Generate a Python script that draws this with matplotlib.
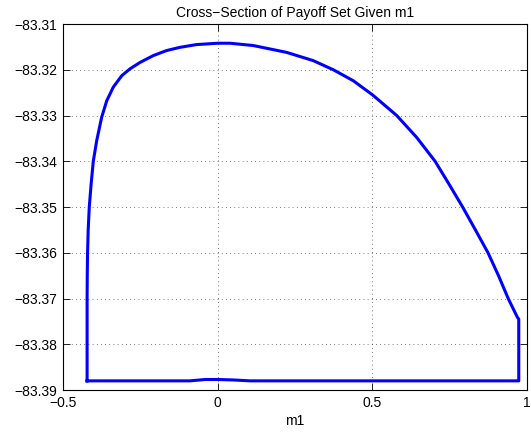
import matplotlib
matplotlib.use("Agg")
import matplotlib.pyplot as plt

plt.rcParams['font.family'] = ['Liberation Sans', 'DejaVu Sans']

# boundary of the payoff set cross-section, traced around the contour
m1 = [-0.4220, -0.4220, -0.4215, -0.4205, -0.4185, -0.415, -0.409, -0.402,
      -0.391, -0.375, -0.3587, -0.3374, -0.310, -0.2834, -0.251, -0.208,
      -0.165, -0.122, -0.069, 0.0, 0.040, 0.115, 0.223, 0.309, 0.374,
      0.4386, 0.501, 0.579, 0.6436, 0.703, 0.748, 0.792, 0.835, 0.874,
      0.908, 0.940, 0.9690, 0.9735, 0.9735,
      0.105, 0.05, 0.0, -0.04, -0.09, -0.4220]
payoff = [-83.3880, -83.3700, -83.3650, -83.3600, -83.3550, -83.3500,
          -83.3450, -83.3400, -83.3355, -83.3304, -83.3268, -83.3238,
          -83.3213, -83.3198, -83.3184, -83.3169, -83.3158, -83.3151,
          -83.3145, -83.3142, -83.3142, -83.3147, -83.3162, -83.3180,
          -83.3200, -83.3224, -83.3255, -83.3300, -83.3348, -83.3400,
          -83.3450, -83.3500, -83.3552, -83.3600, -83.3650, -83.3701,
          -83.3741, -83.3745, -83.3880,
          -83.3880, -83.3878, -83.3877, -83.3877, -83.3880, -83.3880]

xticks = [-0.5, 0, 0.5, 1]
xlabels = ['\u22120.5', '0', '0.5', '1']
yticks = [-83.39, -83.38, -83.37, -83.36, -83.35, -83.34, -83.33, -83.32, -83.31]
ylabels = ['\u2212%.2f' % abs(v) for v in yticks]

fig = plt.figure(figsize=(5.31, 4.32), dpi=100)
ax = fig.add_axes([0.1186, 0.0972, 0.8738, 0.8472])
ax.plot(m1, payoff, color=(0, 0, 1), lw=2.2, solid_joinstyle='round')
ax.set_xlim(-0.5, 1)
ax.set_ylim(-83.39, -83.31)
ax.set_xticks(xticks)
ax.set_xticklabels(xlabels)
ax.set_yticks(yticks)
ax.set_yticklabels(ylabels)
ax.tick_params(direction='in', top=True, right=True, length=5, width=0.6,
               labelsize=10, pad=4)
ax.grid(True, linestyle=(0, (1, 4)), color='black', lw=0.6, alpha=0.7)
for s in ax.spines.values():
    s.set_linewidth(0.8)
ax.set_title('Cross\u2212Section of Payoff Set Given m1', fontsize=10, pad=5)
ax.set_xlabel('m1', fontsize=10, labelpad=3)

fig.savefig('out.png', dpi=100)
